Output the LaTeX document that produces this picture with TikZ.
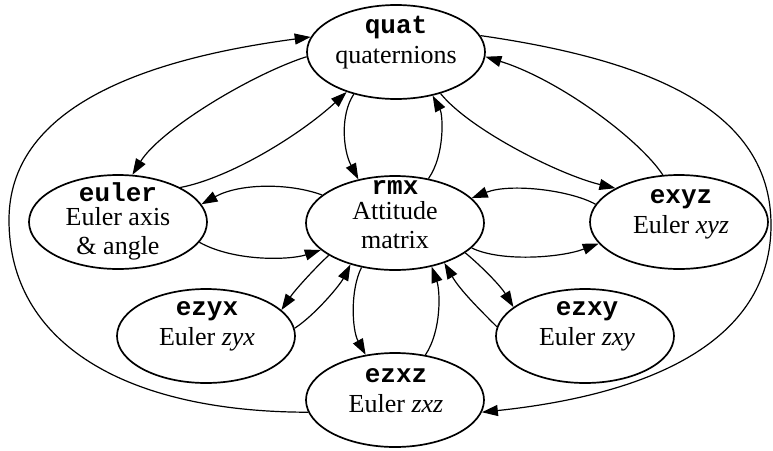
\documentclass[tikz,border=0pt]{standalone}
\usepackage{fontspec}
\setmainfont{Liberation Serif}
\setmonofont{Liberation Mono}
\usetikzlibrary{arrows.meta,shapes.geometric}
\begin{document}
\begin{tikzpicture}[x=1pt,y=-1pt,
  state/.style={draw, ellipse, line width=1.7pt, minimum width=178pt, minimum height=94pt, inner sep=0pt},
  code/.style={font=\fontsize{26}{30}\selectfont\ttfamily\bfseries, anchor=base, inner sep=0pt},
  lbl/.style={font=\fontsize{26}{30}\selectfont, anchor=base, inner sep=0pt},
  conn/.style={line width=1.2pt, -{Triangle[length=16pt,width=11pt]}}]
\useasboundingbox (0,0) rectangle (773,450);
% nodes
\node[state] (quat)  at (396,52)  {};
\node[state] (euler) at (118,222) {};
\node[state] (rmx)   at (395,223) {};
\node[state] (exyz)  at (679,222) {};
\node[state] (ezyx)  at (206,336) {};
\node[state] (ezxy)  at (585,336) {};
\node[state] (ezxz)  at (395,400) {};
% labels
\node[code] (quatA)  at (396,33)  {quat};
\node[lbl]  (quatB)  at (396,63)  {quaternions};
\node[code] (eulerA) at (118,201) {euler};
\node[lbl]  (eulerB) at (118,225) {Euler axis};
\node[lbl]  (eulerC) at (118,254) {\& angle};
\node[code] (rmxA)   at (395,194) {rmx};
\node[lbl]  (rmxB)   at (395,219) {Attitude};
\node[lbl]  (rmxC)   at (395,248) {matrix};
\node[code] (exyzA)  at (681,203) {exyz};
\node[lbl]  (exyzB)  at (681,233) {Euler \textit{xyz}};
\node[code] (ezyxA)  at (207,315) {ezyx};
\node[lbl]  (ezyxB)  at (207,345) {Euler \textit{zyx}};
\node[code] (ezxyA)  at (587,315) {ezxy};
\node[lbl]  (ezxyB)  at (587,345) {Euler \textit{zxy}};
\node[code] (ezxzA)  at (396,382) {ezxz};
\node[lbl]  (ezxzB)  at (396,412) {Euler \textit{zxz}};
% outer arcs
\draw[conn] (ezxz.188) .. controls (125,412) and (9,343) .. (9,220)
            .. controls (9,110) and (137,60) .. (quat.170);
\draw[conn] (quat.11) .. controls (650,60) and (771,110) .. (771,225)
            .. controls (771,335) and (663,393) .. (ezxz.-8);
% quat connections
\draw[conn] (quat.183) .. controls (250,75) and (160,130) .. (euler.73);
\draw[conn] (euler.29) .. controls (230,178) and (300,135) .. (quat.219);
\draw[conn] (quat.225) .. controls (340,115) and (343,150) .. (rmx.130);
\draw[conn] (rmx.53.5) .. controls (445,155) and (443,115) .. (quat.-50);
\draw[conn] (quat.-43) .. controls (470,130) and (560,175) .. (exyz.152);
\draw[conn] (exyz.109.5) .. controls (640,140) and (560,80) .. (quat.-3);
% rmx connections
\draw[conn] (rmx.159.5) .. controls (290,183) and (240,183) .. (euler.12.7);
\draw[conn] (euler.-14.4) .. controls (235,262) and (290,260) .. (rmx.200.3);
\draw[conn] (exyz.168.6) .. controls (570,190) and (510,183) .. (rmx.18.7);
\draw[conn] (rmx.-18) .. controls (500,262) and (560,258) .. (exyz.195);
\draw[conn] (rmx.206.9) .. controls (315,268) and (295,290) .. (ezyx.19.1);
\draw[conn] (ezyx.5.1) .. controls (315,315) and (340,285) .. (rmx.223);
\draw[conn] (rmx.233.7) .. controls (350,290) and (352,330) .. (ezxz.123.7);
\draw[conn] (ezxz.56.3) .. controls (442,330) and (440,290) .. (rmx.-50);
\draw[conn] (rmx.-23.2) .. controls (480,265) and (500,285) .. (ezxy.158);
\draw[conn] (ezxy.174.1) .. controls (480,310) and (460,290) .. (rmx.-39.7);
\end{tikzpicture}
\end{document}
